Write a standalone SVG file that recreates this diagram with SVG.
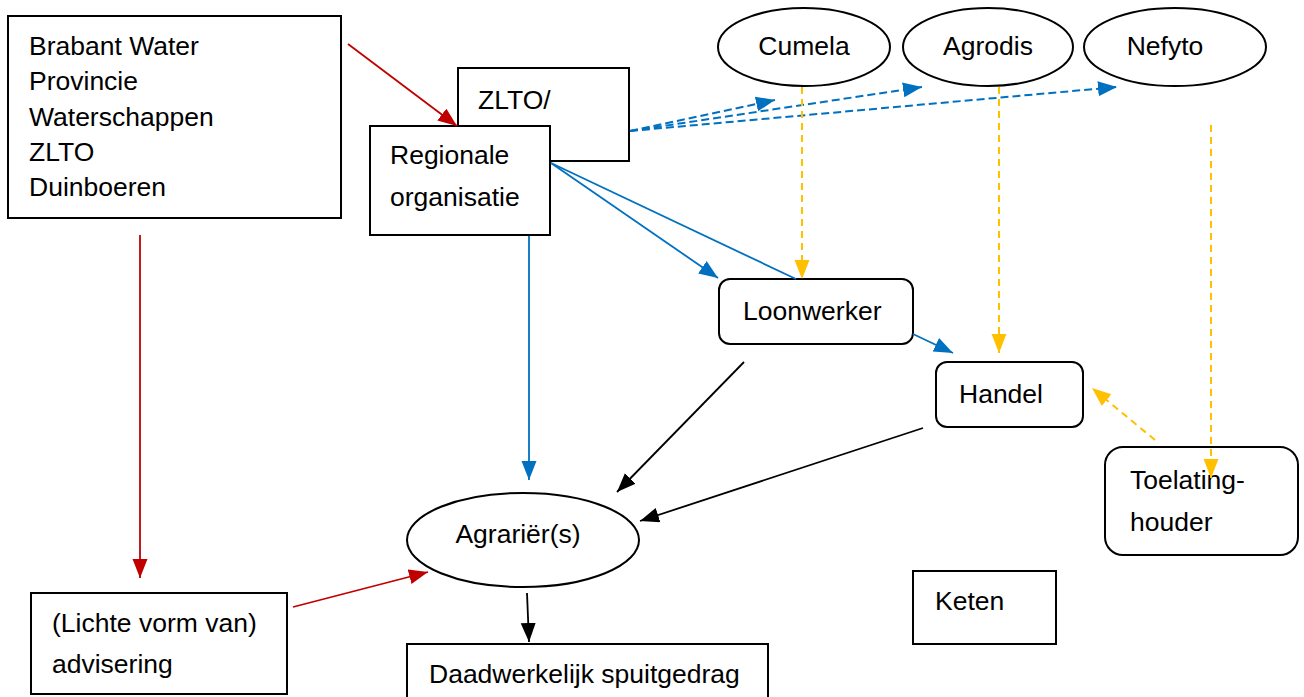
<svg xmlns="http://www.w3.org/2000/svg" width="1304" height="697" viewBox="0 0 1304 697">
<style>
  .box{fill:#fff;stroke:#000;stroke-width:2}
  .t{font-family:"Liberation Sans",Arial,sans-serif;font-size:26.5px;fill:#000}
  .tc{font-family:"Liberation Sans",Arial,sans-serif;font-size:26.5px;fill:#000;text-anchor:middle}
  .red{stroke:#C00000;stroke-width:1.8;fill:none}
  .blue{stroke:#0070C0;stroke-width:1.8;fill:none}
  .bdash{stroke:#0070C0;stroke-width:2;fill:none;stroke-dasharray:8 4}
  .ydash{stroke:#FFC000;stroke-width:2;fill:none;stroke-dasharray:7 5}
  .black{stroke:#000;stroke-width:1.8;fill:none}
</style>
<defs>
  <marker id="aR" markerUnits="userSpaceOnUse" markerWidth="22" markerHeight="16" refX="19" refY="7.5" orient="auto"><path d="M0,0 L19,7.5 L0,15 z" fill="#C00000"/></marker>
  <marker id="aB" markerUnits="userSpaceOnUse" markerWidth="22" markerHeight="16" refX="19" refY="7.5" orient="auto"><path d="M0,0 L19,7.5 L0,15 z" fill="#0070C0"/></marker>
  <marker id="aY" markerUnits="userSpaceOnUse" markerWidth="22" markerHeight="16" refX="19" refY="7.5" orient="auto"><path d="M0,0 L19,7.5 L0,15 z" fill="#FFC000"/></marker>
  <marker id="aK" markerUnits="userSpaceOnUse" markerWidth="22" markerHeight="16" refX="19" refY="7.5" orient="auto"><path d="M0,0 L19,7.5 L0,15 z" fill="#000"/></marker>
</defs>
<rect width="1304" height="697" fill="#fff"/>

<g id="stakeholders">
  <rect class="box" x="8" y="16" width="333" height="202"/>
  <text class="t" x="29" y="55">Brabant Water</text>
  <text class="t" x="29" y="90">Provincie</text>
  <text class="t" x="29" y="126">Waterschappen</text>
  <text class="t" x="29" y="161">ZLTO</text>
  <text class="t" x="29" y="196">Duinboeren</text>
</g>

<g id="zlto">
  <rect class="box" x="458" y="68" width="171" height="93"/>
  <text class="t" x="478" y="109">ZLTO/</text>
</g>

<g id="regionale">
  <rect class="box" x="370" y="126" width="180" height="109"/>
  <text class="t" x="390" y="164">Regionale</text>
  <text class="t" x="390" y="206">organisatie</text>
</g>

<g id="cumela">
  <ellipse class="box" cx="804" cy="47" rx="86" ry="39"/>
  <text class="tc" x="804" y="55">Cumela</text>
</g>
<g id="agrodis">
  <ellipse class="box" cx="988" cy="47" rx="85" ry="39"/>
  <text class="tc" x="988" y="55">Agrodis</text>
</g>
<g id="nefyto">
  <ellipse class="box" cx="1175" cy="47" rx="91" ry="39"/>
  <text class="tc" x="1165" y="55">Nefyto</text>
</g>

<g id="loonwerker">
  <rect class="box" x="719" y="279" width="194" height="65" rx="11"/>
  <text class="t" x="743" y="320">Loonwerker</text>
</g>

<g id="handel">
  <rect class="box" x="936" y="362" width="147" height="65" rx="11"/>
  <text class="t" x="959" y="403">Handel</text>
</g>

<g id="toelatinghouder">
  <rect class="box" x="1105" y="447" width="193" height="108" rx="18"/>
  <text class="t" x="1130" y="489">Toelating-</text>
  <text class="t" x="1130" y="531">houder</text>
</g>

<g id="agrarier">
  <ellipse class="box" cx="523" cy="540" rx="116" ry="47"/>
  <text class="tc" x="518" y="543">Agrariër(s)</text>
</g>

<g id="advisering">
  <rect class="box" x="31" y="593" width="256" height="101"/>
  <text class="t" x="52" y="632">(Lichte vorm van)</text>
  <text class="t" x="52" y="673">advisering</text>
</g>

<g id="spuitgedrag">
  <rect class="box" x="407" y="644" width="361" height="60"/>
  <text class="t" x="429" y="683">Daadwerkelijk spuitgedrag</text>
</g>

<g id="keten">
  <rect class="box" x="913" y="571" width="143" height="73"/>
  <text class="t" x="935" y="610">Keten</text>
</g>

<g id="connectors">
  <line class="red" x1="348" y1="44" x2="457" y2="126" marker-end="url(#aR)"/>
  <line class="red" x1="140" y1="235" x2="140" y2="578" marker-end="url(#aR)"/>
  <line class="red" x1="293" y1="607" x2="428" y2="572" marker-end="url(#aR)"/>
  <line class="bdash" x1="630" y1="131" x2="775" y2="100" marker-end="url(#aB)"/>
  <line class="bdash" x1="630" y1="131" x2="922" y2="87" marker-end="url(#aB)"/>
  <line class="bdash" x1="630" y1="131" x2="1117" y2="87" marker-end="url(#aB)"/>
  <line class="blue" x1="551" y1="163" x2="718" y2="278" marker-end="url(#aB)"/>
  <line class="blue" x1="551" y1="163" x2="796" y2="279"/>
  <line class="blue" x1="529" y1="236" x2="529" y2="480" marker-end="url(#aB)"/>
  <line class="blue" x1="913" y1="334" x2="953" y2="353" marker-end="url(#aB)"/>
  <line class="ydash" x1="802" y1="87" x2="802" y2="279" marker-end="url(#aY)"/>
  <line class="ydash" x1="999" y1="87" x2="999" y2="353" marker-end="url(#aY)"/>
  <line class="ydash" x1="1211" y1="125" x2="1211" y2="478" marker-end="url(#aY)"/>
  <line class="ydash" x1="1155" y1="440" x2="1092" y2="388" marker-end="url(#aY)"/>
  <line class="black" x1="744" y1="362" x2="617" y2="492" marker-end="url(#aK)"/>
  <line class="black" x1="923" y1="428" x2="640" y2="521" marker-end="url(#aK)"/>
  <line class="black" x1="527" y1="593" x2="529" y2="642" marker-end="url(#aK)"/>
</g>
</svg>
